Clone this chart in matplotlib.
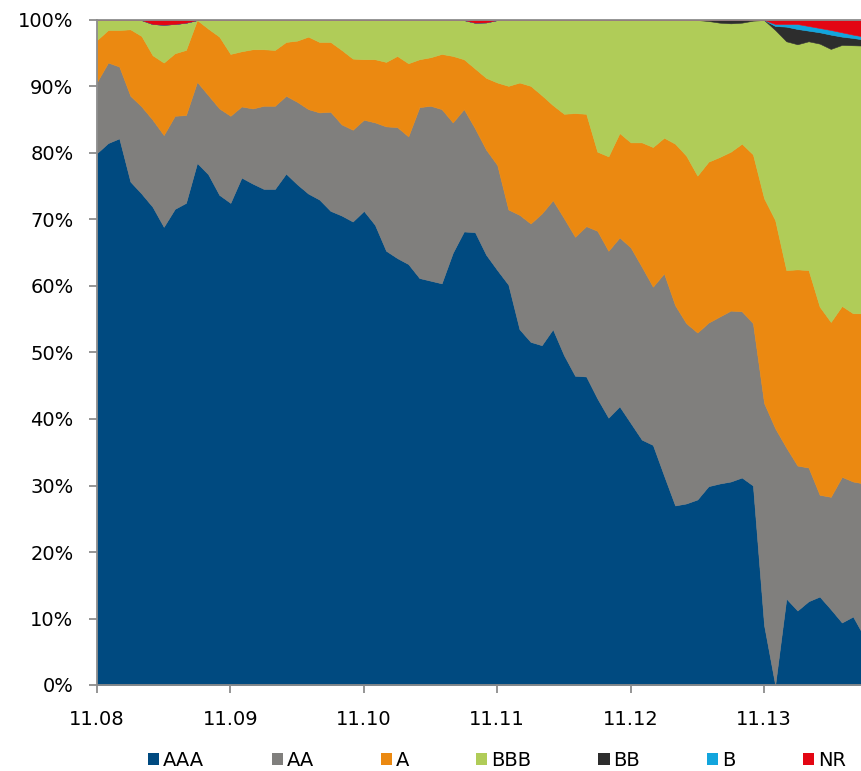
import numpy as np
import matplotlib
matplotlib.use("Agg")
import matplotlib.pyplot as plt
from matplotlib.patches import Patch
from matplotlib.ticker import FuncFormatter

plt.rcParams['font.family'] = ['DejaVu Sans']

# Monthly rating shares (%), starting 11.08
AAA = [80.0, 81.5, 82.2, 75.7, 73.9, 71.9, 68.9, 71.6, 72.5, 78.5,
       76.8, 73.7, 72.5, 76.3, 75.4, 74.6, 74.6, 76.9, 75.3, 73.9,
       73.0, 71.3, 70.6, 69.7, 71.3, 69.2, 65.3, 64.2, 63.3, 61.2,
       60.8, 60.4, 65.0, 68.2, 68.1, 64.7, 62.4, 60.2, 53.5, 51.6,
       51.1, 53.5, 49.6, 46.5, 46.4, 43.1, 40.2, 41.9, 39.4, 36.9,
       36.1, 31.5, 27.0, 27.3, 27.9, 29.9, 30.3, 30.6, 31.2, 30.0,
       9.0, 0.0, 13.0, 11.2, 12.6, 13.3, 11.4, 9.4, 10.3, 7.3]
AA = [10.7, 12.1, 10.8, 12.9, 13.1, 13.1, 13.8, 14.0, 13.2, 12.2,
      11.9, 13.0, 13.1, 10.7, 11.3, 12.5, 12.5, 11.7, 12.4, 12.7,
      13.1, 14.9, 13.7, 13.8, 13.7, 15.4, 18.7, 19.7, 19.2, 25.7,
      26.3, 26.2, 19.6, 18.4, 15.6, 15.8, 15.8, 11.3, 17.2, 17.8,
      19.8, 19.4, 20.6, 20.9, 22.6, 25.2, 25.1, 25.4, 26.4, 26.0,
      23.8, 30.4, 30.1, 27.1, 25.1, 24.6, 25.1, 25.7, 25.0, 24.4,
      33.4, 38.6, 22.7, 21.8, 20.1, 15.3, 16.9, 21.9, 20.3, 23.0]
A = [6.3, 4.9, 5.5, 10.0, 10.6, 9.7, 10.9, 9.4, 9.8, 9.3,
     10.0, 10.8, 9.3, 8.3, 8.9, 8.5, 8.4, 8.1, 9.2, 10.9,
     10.6, 10.5, 11.2, 10.7, 9.1, 9.5, 9.7, 10.7, 11.0, 7.2,
     7.3, 8.3, 10.0, 7.5, 9.0, 10.8, 12.4, 18.6, 19.9, 20.7,
     17.8, 14.3, 15.7, 18.6, 16.9, 11.9, 14.2, 15.7, 15.8, 18.7,
     21.0, 20.4, 24.3, 25.2, 23.6, 24.2, 24.0, 23.9, 25.2, 25.4,
     30.8, 31.3, 26.7, 29.5, 29.7, 28.3, 26.3, 25.7, 25.3, 25.6]
BBB = [3.0, 1.5, 1.5, 1.4, 2.4, 4.7, 5.7, 4.4, 4.1, 0.0,
       1.3, 2.5, 5.1, 4.7, 4.4, 4.4, 4.5, 3.3, 3.1, 2.5,
       3.3, 3.3, 4.5, 5.8, 5.9, 5.9, 6.3, 5.4, 6.5, 5.9,
       5.6, 5.1, 5.4, 5.9, 6.9, 8.35, 9.4, 9.9, 9.4, 9.9,
       11.3, 12.8, 14.1, 14.0, 14.1, 19.8, 20.5, 17.0, 18.4, 18.4,
       19.1, 17.7, 18.6, 20.4, 23.4, 21.15, 20.2, 19.3, 18.2, 20.1,
       26.8, 28.6, 34.4, 33.85, 34.4, 39.55, 41.05, 39.25, 40.3, 40.25]
BB = [0.0] * 55 + [0.15, 0.4, 0.5, 0.4, 0.1, 0.0,
                   0.6, 2.2, 2.3, 1.6, 1.7, 2.15, 1.25, 1.1, 0.9]
B = [0.0] * 61 + [0.3, 0.4, 0.75, 0.7, 0.65, 0.7, 0.65, 0.5, 0.45]
NR = ([0.0] * 4 + [0.0, 0.6, 0.7, 0.6, 0.4] + [0.0] * 25 + [0.4, 0.35]
      + [0.0] * 25 + [0.6, 0.6, 0.6, 0.9, 1.2, 1.5, 1.85, 2.2, 2.5])

series_names = ['AAA', 'AA', 'A', 'BBB', 'BB', 'B', 'NR']
colors = ['#004A80', '#807F7D', '#EB8911', '#B0CC58', '#2D2D2D', '#12A5DD', '#E30613']
tick_labels = ['11.08', '11.09', '11.10', '11.11', '11.12', '11.13']
tick_months = [0, 12, 24, 36, 48, 60]

x = np.arange(len(AAA))
data = [AAA, AA, A, BBB, BB, B, NR]

W, H = 861, 771
fig = plt.figure(figsize=(W / 100, H / 100), dpi=100)
left, right, bottom, top = 97, 861, 86, 751
ax = fig.add_axes([left / W, bottom / H, (right - left) / W, (top - bottom) / H])

ax.stackplot(x, *data, colors=colors, linewidth=0.4, edgecolor='face')

ax.set_xlim(0, 68.72)
ax.set_ylim(0, 100)
ax.set_yticks(np.arange(0, 101, 10))
ax.yaxis.set_major_formatter(FuncFormatter(lambda v, p: f'{int(v)}%'))
ax.set_xticks(tick_months)
ax.set_xticklabels(tick_labels)

spine_col = '#8C8C8C'
for s in ['left', 'bottom', 'top']:
    ax.spines[s].set_color(spine_col)
    ax.spines[s].set_linewidth(1.3)
ax.spines['right'].set_visible(False)
ax.tick_params(axis='y', direction='out', length=6, width=1.3, color=spine_col,
               labelsize=14, pad=11, labelcolor='black')
ax.tick_params(axis='x', direction='out', length=6, width=1.3, color=spine_col,
               labelsize=14, pad=12, labelcolor='black')
ax.set_axisbelow(False)

handles = [Patch(facecolor=c, edgecolor='none') for c in colors]
fig.legend(handles, series_names, loc='center', bbox_to_anchor=(497 / W, 11 / H),
           ncol=7, frameon=False, fontsize=14, handlelength=0.57, handleheight=0.57,
           handletextpad=0.2, columnspacing=3.45, borderpad=0)

fig.savefig('out.png', dpi=100)
